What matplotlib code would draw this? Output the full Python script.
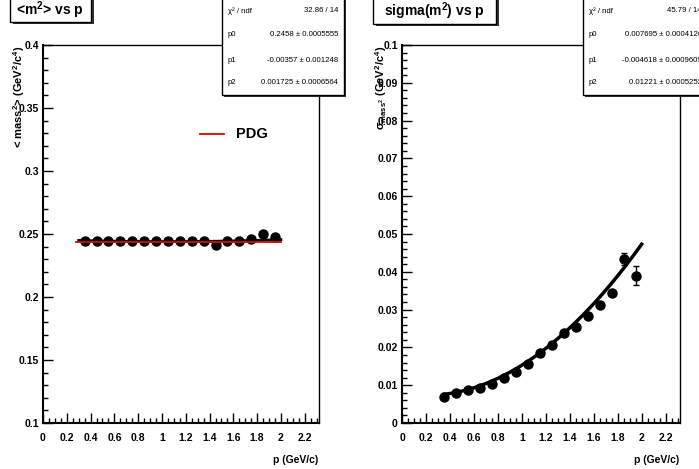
import numpy as np
import matplotlib
matplotlib.use("Agg")
import matplotlib.pyplot as plt
from matplotlib.patches import Rectangle
from matplotlib.ticker import MultipleLocator

plt.rcParams['font.family'] = ['Liberation Sans', 'DejaVu Sans']
plt.rcParams['mathtext.fontset'] = 'custom'
plt.rcParams['mathtext.rm'] = 'Liberation Sans'
plt.rcParams['mathtext.bf'] = 'Liberation Sans:bold'
plt.rcParams['mathtext.it'] = 'Liberation Sans:italic'
plt.rcParams['mathtext.default'] = 'bf'

# ---- data ----
p_vals = [0.35, 0.45, 0.55, 0.65, 0.75, 0.85, 0.95, 1.05, 1.15, 1.25,
          1.35, 1.45, 1.55, 1.65, 1.75, 1.85, 1.95]
mean_m2 = [0.2445, 0.2445, 0.2443, 0.2443, 0.2443, 0.2443, 0.2443, 0.2445, 0.2443,
           0.2443, 0.2445, 0.2415, 0.2445, 0.2443, 0.2458, 0.2500, 0.2478]
mean_m2_err = [0.0003] * 17
sigma_m2 = [0.0070, 0.0080, 0.0087, 0.0092, 0.0104, 0.0120, 0.0136, 0.0156, 0.0185,
            0.0207, 0.0237, 0.0253, 0.0284, 0.0313, 0.0344, 0.0433, 0.0390]
sigma_m2_err = [0.0003, 0.0003, 0.0003, 0.0003, 0.0003, 0.0003, 0.0003, 0.0003, 0.0004,
                0.0004, 0.0004, 0.0005, 0.0005, 0.0006, 0.0008, 0.0016, 0.0025]
pdg_m2 = 0.2437
pdg_range = [0.28, 2.0]
fit1 = [0.2458, -0.00357, 0.001725]
fit2 = [0.007695, -0.004618, 0.01221]
fit_range = [0.3, 2.0]
stats1 = [("\u03c7\u00b2 / ndf", "32.86 / 14"), ("p0", "0.2458 \u00b1 0.0005555"),
          ("p1", "-0.00357 \u00b1 0.001248"), ("p2", "0.001725 \u00b1 0.0006564")]
stats2 = [("\u03c7\u00b2 / ndf", "45.79 / 14"), ("p0", "0.007695 \u00b1 0.0004126"),
          ("p1", "-0.004618 \u00b1 0.0009609"), ("p2", "0.01221 \u00b1 0.0005252")]
xticks = [0, 0.2, 0.4, 0.6, 0.8, 1, 1.2, 1.4, 1.6, 1.8, 2, 2.2]
xticklabels = ["0", "0.2", "0.4", "0.6", "0.8", "1", "1.2", "1.4", "1.6", "1.8", "2", "2.2"]

W, H = 699, 469
fig = plt.figure(figsize=(W / 100, H / 100), dpi=100)
fig.patch.set_facecolor('white')

def fx(x):
    return x / W

def fy(y):
    return 1 - y / H

def axes_px(l, r, t, b):
    return fig.add_axes([fx(l), fy(b), fx(r) - fx(l), fy(t) - fy(b)])

ax1 = axes_px(43, 319, 45, 423)
ax2 = axes_px(402, 680, 45, 423)

def style(ax, ymaj, ymin):
    ax.set_xlim(0, 2.32)
    ax.set_xticks(xticks)
    ax.set_xticklabels(xticklabels)
    ax.xaxis.set_minor_locator(MultipleLocator(0.05))
    ax.yaxis.set_major_locator(MultipleLocator(ymaj))
    ax.yaxis.set_minor_locator(MultipleLocator(ymin))
    ax.tick_params(which='both', direction='in', top=False, right=False, width=1.0, color='black')
    ax.tick_params(which='major', length=7)
    ax.tick_params(which='minor', length=3.5)
    ax.tick_params(axis='x', which='major', pad=7, labelsize=7.5)
    ax.tick_params(axis='y', which='major', pad=3, labelsize=7.5)
    for lab in ax.get_xticklabels() + ax.get_yticklabels():
        lab.set_fontweight('bold')
    for s in ['top', 'right']:
        ax.spines[s].set_linewidth(1.0)
    for s in ['left', 'bottom']:
        ax.spines[s].set_linewidth(1.5)

# left panel
pf = np.linspace(fit_range[0], fit_range[1], 200)
ax1.plot(pf, fit1[0] + fit1[1] * pf + fit1[2] * pf ** 2, color='black', lw=2.0, zorder=2)
ax1.errorbar(p_vals, mean_m2, yerr=mean_m2_err, fmt='o', color='black', ms=6.5,
             elinewidth=1, capsize=2, zorder=3)
ax1.plot(pdg_range, [pdg_m2, pdg_m2], color='#dd0000', lw=1.3, zorder=4)
ax1.set_ylim(0.1, 0.4)
style(ax1, 0.05, 0.01)
ax1.yaxis.set_major_formatter(matplotlib.ticker.FuncFormatter(lambda v, _: f"{v:g}"))

# legend for PDG
fig.add_artist(plt.Line2D([fx(200), fx(224)], [fy(134), fy(134)], color='#dd0000', lw=1.3))
fig.text(fx(236), fy(134), "PDG", fontsize=10.5, fontweight='bold', va='center', ha='left')

# right panel
pf2 = np.linspace(0.35, 2.0, 200)
ax2.plot(pf2, fit2[0] + fit2[1] * pf2 + fit2[2] * pf2 ** 2, color='black', lw=2.5, zorder=2)
ax2.errorbar(p_vals, sigma_m2, yerr=sigma_m2_err, fmt='o', color='black', ms=6.5,
             elinewidth=1, capsize=2, zorder=3)
ax2.set_ylim(0, 0.1)
style(ax2, 0.01, 0.002)
ax2.yaxis.set_major_formatter(matplotlib.ticker.FuncFormatter(lambda v, _: f"{v:g}"))

# axis labels
fig.text(fx(318), fy(460), "p (GeV/c)", fontsize=7.5, fontweight='bold', ha='right', va='center')
fig.text(fx(679), fy(460), "p (GeV/c)", fontsize=7.5, fontweight='bold', ha='right', va='center')
fig.text(fx(19), fy(46), "< mass$^2$> (GeV$^2$/c$^4$)", fontsize=8, fontweight='bold',
         rotation=90, ha='center', va='top')
fig.text(fx(381), fy(46), r"$\sigma_{mass^2}$ (GeV$^2$/c$^4$)", fontsize=8, fontweight='bold',
         rotation=90, ha='center', va='top')

# boxes with shadows
def shadow_box(l, t, r, b, sh=2.5):
    fig.add_artist(Rectangle((fx(l + sh), fy(b + sh)), fx(r - l), fy(t) - fy(b),
                             transform=fig.transFigure, facecolor='#333333', edgecolor='none', zorder=9))
    fig.add_artist(Rectangle((fx(l), fy(b)), fx(r - l), fy(t) - fy(b),
                             transform=fig.transFigure, facecolor='white', edgecolor='black',
                             lw=1.0, zorder=10))

shadow_box(10, -5, 91, 22)
fig.text(fx(50), fy(10), "<m$^2$> vs p", fontsize=10, fontweight='bold', ha='center', va='center', zorder=11)
shadow_box(373, -5, 496, 24)
fig.text(fx(434), fy(11), "sigma(m$^2$) vs p", fontsize=10, fontweight='bold', ha='center', va='center', zorder=11)

def stats_box(l, r, rows, vright):
    shadow_box(l, -5, r, 95, sh=2)
    ys = [11, 34, 60, 82]
    for (k, v), y in zip(rows, ys):
        fig.text(fx(l + 6), fy(y), k, fontsize=5.6, ha='left', va='center', zorder=11)
        fig.text(fx(vright), fy(y), v, fontsize=5.6, ha='right', va='center', zorder=11)

stats_box(222, 344, stats1, 338)
stats_box(583, 720, stats2, 702)

fig.savefig("out.png", dpi=100, facecolor='white')
